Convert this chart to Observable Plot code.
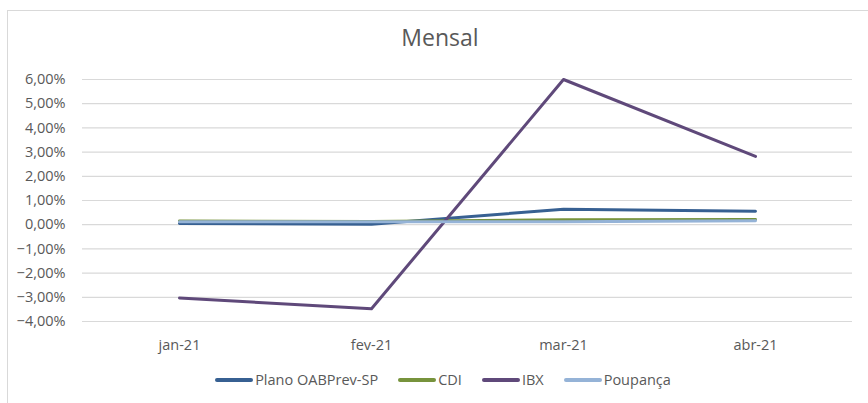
<!DOCTYPE html>
<html>
<head>
<meta charset="utf-8">
<script src="https://cdn.jsdelivr.net/npm/d3@7"></script>
<script src="https://cdn.jsdelivr.net/npm/@observablehq/plot@0.6"></script>
<style>
  html, body { margin: 0; padding: 0; background: #fff; }
  #wrap { position: relative; width: 868px; height: 403px; overflow: hidden; font-family: "Open Sans", sans-serif; }
  #frame { position: absolute; left: 7px; top: 10px; width: 900px; height: 420px; border-left: 1px solid #d9d9d9; border-top: 1px solid #d9d9d9; box-sizing: border-box; }
  #title { position: absolute; left: 0; width: 868px; top: 21px; text-align: center; font-size: 23px; color: #595959; padding-left: 12px; box-sizing: border-box; }
  #legend { position: absolute; left: 0; width: 868px; top: 370px; display: flex; justify-content: center; font-size: 14.5px; color: #595959; padding-left: 18px; box-sizing: border-box; }
  .item { display: flex; align-items: center; margin: 0 10px; }
  .sw { width: 38px; height: 4px; border-radius: 2px; margin-right: 2px; }
  #chart { position: absolute; left: 0; top: 0; }
</style>
</head>
<body>
<div id="wrap">
  <div id="frame"></div>
  <div id="chart"></div>
  <div id="title">Mensal</div>
  <div id="legend"></div>
</div>
<script>
const months = ["jan-21", "fev-21", "mar-21", "abr-21"];
const seriesNames = ["Plano OABPrev-SP", "CDI", "IBX", "Poupança"];
const plano = [0.05, 0.02, 0.64, 0.56];
const cdi = [0.15, 0.13, 0.20, 0.21];
const ibx = [-3.03, -3.47, 6.00, 2.82];
const poupanca = [0.12, 0.12, 0.12, 0.16];
const yTicks = [-4, -3, -2, -1, 0, 1, 2, 3, 4, 5, 6];
const colors = ["#376092", "#77933C", "#5F497A", "#95B3D7"];

const allValues = [plano, cdi, ibx, poupanca];
const data = [];
seriesNames.forEach((s, i) => {
  months.forEach((m, j) => data.push({series: s, month: m, value: allValues[i][j] / 100}));
});

const br = d3.formatLocale({decimal: ",", thousands: ".", grouping: [3], currency: ["R$", ""]});
const fmt = br.format(".2%");

const chart = Plot.plot({
  width: 868,
  height: 403,
  marginTop: 79,
  marginBottom: 82,
  marginLeft: 82,
  marginRight: 16,
  style: {fontFamily: "'Open Sans', sans-serif", fontSize: "14.5px", color: "#595959", background: "transparent"},
  x: {type: "point", domain: months, padding: 0.5, label: null},
  y: {domain: [-0.04, 0.06], label: null},
  color: {domain: seriesNames, range: colors},
  marks: [
    Plot.ruleY(yTicks.map(d => d / 100), {stroke: "#d9d9d9", strokeWidth: 1.2}),
    Plot.axisY(yTicks.map(d => d / 100), {tickFormat: fmt, tickSize: 0, tickPadding: 17, fill: "#595959", fontSize: 14.5, label: null}),
    Plot.axisX({tickSize: 0, tickPadding: 18, fill: "#595959", fontSize: 14.5, label: null}),
    Plot.line(data, {x: "month", y: "value", z: "series", stroke: "series", strokeWidth: 3, strokeLinecap: "round", strokeLinejoin: "round"})
  ]
});
document.getElementById("chart").appendChild(chart);

const legend = document.getElementById("legend");
seriesNames.forEach((s, i) => {
  const it = document.createElement("div");
  it.className = "item";
  it.innerHTML = `<span class="sw" style="background:${colors[i]}"></span><span>${s}</span>`;
  legend.appendChild(it);
});
</script>
</body>
</html>
